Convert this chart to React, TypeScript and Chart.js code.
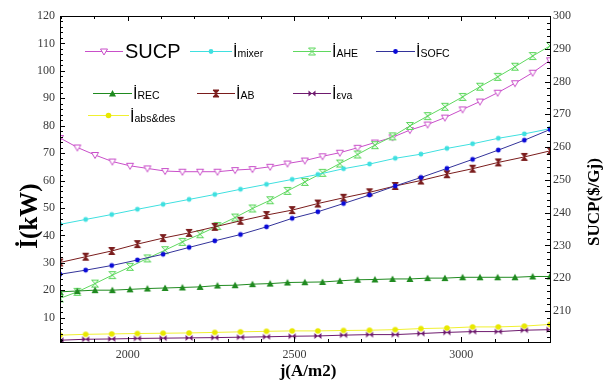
import { useEffect, useRef } from "react";
import { Chart, registerables } from "chart.js";
Chart.register(...registerables);

// ---- data ----
const jFine = [1797, 1849, 1902, 1954, 2007, 2059, 2112, 2164, 2217, 2269, 2322, 2374, 2427, 2479, 2531, 2584, 2636, 2689, 2741, 2794, 2846, 2899, 2951, 3004, 3056, 3109, 3161, 3214, 3266];
const jCoarse = [1797, 1874, 1952, 2029, 2106, 2184, 2261, 2338, 2416, 2493, 2570, 2647, 2725, 2802, 2879, 2957, 3034, 3111, 3189, 3266];

const sucp = [262.8, 259.9, 257.6, 255.6, 254.3, 253.5, 252.7, 252.5, 252.5, 252.5, 253.0, 253.3, 254.0, 255.0, 255.9, 257.2, 258.3, 259.8, 261.4, 263.0, 265.2, 266.9, 269.0, 271.5, 273.9, 276.6, 279.5, 282.7, 286.5];
const iAHE = [17.0, 19.4, 22.4, 25.5, 28.5, 31.6, 34.6, 37.6, 40.4, 43.4, 46.5, 49.8, 52.8, 56.2, 59.5, 62.8, 66.2, 69.5, 72.9, 76.1, 79.9, 83.5, 86.9, 90.5, 94.2, 97.8, 101.5, 105.4, 109.1];
const iREC = [19.4, 19.7, 20.0, 20.0, 20.3, 20.6, 20.8, 21.0, 21.2, 21.7, 21.8, 22.2, 22.4, 22.8, 22.9, 23.0, 23.4, 23.8, 23.9, 24.1, 24.1, 24.4, 24.4, 24.7, 24.7, 24.7, 24.7, 25.0, 25.0];

const iMixer = [44.0, 45.8, 47.6, 49.5, 51.3, 53.1, 54.9, 56.8, 58.6, 60.4, 62.2, 64.3, 66.0, 68.1, 69.6, 71.7, 73.4, 75.4, 77.0, 78.9];
const iSOFC = [25.8, 27.3, 29.0, 31.0, 33.1, 35.6, 38.0, 40.3, 43.1, 46.2, 48.6, 51.6, 54.7, 58.0, 61.1, 64.4, 67.7, 71.1, 74.7, 78.6];
const iAB = [30.1, 32.2, 34.3, 36.8, 39.0, 40.9, 43.1, 45.3, 47.4, 49.2, 51.6, 53.7, 55.7, 58.0, 60.0, 62.3, 64.3, 66.6, 68.6, 70.8];
const iEva = [1.75, 2.1, 2.2, 2.4, 2.5, 2.6, 2.7, 2.85, 3.0, 3.2, 3.3, 3.6, 3.8, 3.8, 4.2, 4.6, 4.9, 4.9, 5.4, 5.6];
const iAbsDes = [3.6, 3.9, 4.05, 4.2, 4.3, 4.4, 4.6, 4.8, 5.0, 5.15, 5.15, 5.3, 5.4, 5.6, 6.0, 6.2, 6.6, 6.6, 6.9, 7.5];

const leftTicks = [10, 20, 30, 40, 50, 60, 70, 80, 90, 100, 110, 120];
const rightTicks = [210, 220, 230, 240, 250, 260, 270, 280, 290, 300];
const xTicks = [2000, 2500, 3000];

// ---- styles ----
const C = {
  sucp: "#c94fc9",
  mixer: "#3fe0e0",
  ahe: "#5fd85f",
  sofcLine: "#33339a",
  sofcPt: "#0a0ad8",
  rec: "#1f8a1f",
  ab: "#7a1c1c",
  eva: "#6e1a6e",
  absLine: "#f0f030",
  absPt: "#e8e800",
};

type MarkerFn = (ctx: CanvasRenderingContext2D, cx: number, cy: number) => void;

const mk: Record<string, MarkerFn> = {
  downTri: (ctx, cx, cy) => {
    ctx.beginPath();
    ctx.moveTo(cx - 3.5, cy - 2.5);
    ctx.lineTo(cx + 3.5, cy - 2.5);
    ctx.lineTo(cx, cy + 3.5);
    ctx.closePath();
    ctx.fillStyle = "#ffffff";
    ctx.fill();
    ctx.strokeStyle = C.sucp;
    ctx.lineWidth = 1;
    ctx.stroke();
  },
  mixer: (ctx, cx, cy) => {
    ctx.beginPath();
    ctx.arc(cx, cy, 2.4, 0, Math.PI * 2);
    ctx.fillStyle = C.mixer;
    ctx.fill();
  },
  ahe: (ctx, cx, cy) => {
    ctx.beginPath();
    ctx.moveTo(cx - 3.5, cy - 3.5);
    ctx.lineTo(cx + 3.5, cy - 3.5);
    ctx.lineTo(cx - 3.5, cy + 3.5);
    ctx.lineTo(cx + 3.5, cy + 3.5);
    ctx.closePath();
    ctx.fillStyle = "#e8fae8";
    ctx.fill();
    ctx.strokeStyle = C.ahe;
    ctx.lineWidth = 1;
    ctx.stroke();
  },
  sofc: (ctx, cx, cy) => {
    ctx.beginPath();
    ctx.arc(cx, cy, 2.4, 0, Math.PI * 2);
    ctx.fillStyle = C.sofcPt;
    ctx.fill();
  },
  rec: (ctx, cx, cy) => {
    ctx.beginPath();
    ctx.moveTo(cx, cy - 3.5);
    ctx.lineTo(cx + 3.5, cy + 3);
    ctx.lineTo(cx - 3.5, cy + 3);
    ctx.closePath();
    ctx.fillStyle = C.rec;
    ctx.fill();
  },
  ab: (ctx, cx, cy) => {
    ctx.beginPath();
    ctx.moveTo(cx - 3, cy - 3.5);
    ctx.lineTo(cx + 3, cy - 3.5);
    ctx.lineTo(cx - 3, cy + 3.5);
    ctx.lineTo(cx + 3, cy + 3.5);
    ctx.closePath();
    ctx.fillStyle = C.ab;
    ctx.fill();
    ctx.strokeStyle = C.ab;
    ctx.lineWidth = 1;
    ctx.stroke();
  },
  eva: (ctx, cx, cy) => {
    ctx.beginPath();
    ctx.moveTo(cx - 3.5, cy - 3);
    ctx.lineTo(cx - 3.5, cy + 3);
    ctx.lineTo(cx + 3.5, cy - 3);
    ctx.lineTo(cx + 3.5, cy + 3);
    ctx.closePath();
    ctx.fillStyle = C.eva;
    ctx.fill();
  },
  abs: (ctx, cx, cy) => {
    ctx.beginPath();
    ctx.arc(cx, cy, 2.8, 0, Math.PI * 2);
    ctx.fillStyle = C.absPt;
    ctx.fill();
  },
};

function pointCanvas(fn: MarkerFn) {
  const c = document.createElement("canvas");
  c.width = 12;
  c.height = 12;
  const ctx = c.getContext("2d")!;
  fn(ctx, 6, 6);
  return c;
}

// legend layout
type LegendItem = { key: string; color: string; sub?: string; big?: string; x0: number; x1: number; row: number };
const legendRows = [50.7, 92.7, 115];
const legendItems: LegendItem[] = [
  { key: "downTri", color: C.sucp, big: "SUCP", x0: 85, x1: 123, row: 0 },
  { key: "mixer", color: C.mixer, sub: "mixer", x0: 190, x1: 232, row: 0 },
  { key: "ahe", color: C.ahe, sub: "AHE", x0: 293, x1: 331, row: 0 },
  { key: "sofc", color: C.sofcLine, sub: "SOFC", x0: 376, x1: 415, row: 0 },
  { key: "rec", color: C.rec, sub: "REC", x0: 93, x1: 132, row: 1 },
  { key: "ab", color: C.ab, sub: "AB", x0: 197, x1: 235, row: 1 },
  { key: "eva", color: C.eva, sub: "\u03b5va", x0: 293, x1: 331, row: 1 },
  { key: "abs", color: C.absLine, sub: "abs&des", x0: 88, x1: 129, row: 2 },
];

const decorPlugin = {
  id: "decor",
  afterDatasetsDraw(chart: any) {
    const ctx: CanvasRenderingContext2D = chart.ctx;
    const a = chart.chartArea;
    const xs = chart.scales.x;
    const yl = chart.scales.y;
    const yr = chart.scales.y2;
    ctx.save();
    ctx.strokeStyle = "#000";
    ctx.lineWidth = 1;
    ctx.strokeRect(Math.round(a.left) + 0.5, Math.round(a.top) + 0.5, Math.round(a.right - a.left), Math.round(a.bottom - a.top));
    ctx.beginPath();
    for (let v = 2; v <= 120; v += 2) {
      const y = Math.round(yl.getPixelForValue(v)) + 0.5;
      if (y > a.bottom || y < a.top) continue;
      const len = v % 10 === 0 ? 5 : 3;
      ctx.moveTo(a.left, y);
      ctx.lineTo(a.left + len, y);
    }
    for (let v = 202; v <= 300; v += 2) {
      const y = Math.round(yr.getPixelForValue(v)) + 0.5;
      if (y > a.bottom || y < a.top) continue;
      const len = v % 10 === 0 ? 5 : 3;
      ctx.moveTo(a.right, y);
      ctx.lineTo(a.right - len, y);
    }
    for (let v = 1800; v <= 3200; v += 100) {
      const x = Math.round(xs.getPixelForValue(v)) + 0.5;
      if (x < a.left || x > a.right) continue;
      const len = v % 500 === 0 ? 5 : 3;
      ctx.moveTo(x, a.bottom);
      ctx.lineTo(x, a.bottom - len);
      ctx.moveTo(x, a.top);
      ctx.lineTo(x, a.top + len);
    }
    ctx.stroke();
    ctx.restore();
  },
  afterDraw(chart: any) {
    const ctx: CanvasRenderingContext2D = chart.ctx;
    const a = chart.chartArea;
    ctx.save();
    for (const it of legendItems) {
      const y = legendRows[it.row];
      ctx.beginPath();
      ctx.strokeStyle = it.color;
      ctx.lineWidth = 1;
      ctx.moveTo(it.x0, Math.round(y) + 0.5);
      ctx.lineTo(it.x1, Math.round(y) + 0.5);
      ctx.stroke();
      mk[it.key](ctx, (it.x0 + it.x1) / 2, Math.round(y) + 0.5);
      ctx.fillStyle = "#000";
      ctx.textAlign = "left";
      ctx.textBaseline = "alphabetic";
      const base = y + 6.5;
      if (it.big) {
        ctx.font = '20px "Liberation Sans", Arial, sans-serif';
        ctx.fillText(it.big, it.x1 + 2, base + 0.5);
      } else {
        ctx.font = '16px "Liberation Sans", Arial, sans-serif';
        ctx.fillText("\u0130", it.x1 + 1, base);
        ctx.font = '10.5px "Liberation Sans", Arial, sans-serif';
        ctx.fillText(it.sub || "", it.x1 + 5.5, base);
      }
    }
    ctx.fillStyle = "#000";
    ctx.textAlign = "center";
    ctx.textBaseline = "middle";
    ctx.font = 'bold 25px "Liberation Serif", "Times New Roman", serif';
    ctx.save();
    ctx.translate(a.left - 29, (a.top + a.bottom) / 2 + 37);
    ctx.rotate(-Math.PI / 2);
    ctx.fillText("\u0130(kW)", 0, 0);
    ctx.restore();
    ctx.font = 'bold 17px "Liberation Serif", "Times New Roman", serif';
    ctx.save();
    ctx.translate(a.right + 45, (a.top + a.bottom) / 2 + 23);
    ctx.rotate(-Math.PI / 2);
    ctx.fillText("SUCP($/Gj)", 0, 0);
    ctx.restore();
    ctx.fillText("j(A/m2)", (a.left + a.right) / 2 + 3, a.bottom + 30);
    ctx.restore();
  },
};

export default function App() {
  const ref = useRef<HTMLCanvasElement | null>(null);
  useEffect(() => {
    if (!ref.current) return;
    const pts = (xs: number[], ys: number[]) => xs.map((x, i) => ({ x, y: ys[i] }));
    const ds = (label: string, xs: number[], ys: number[], line: string, key: string, axis: string) => ({
      label,
      data: pts(xs, ys),
      borderColor: line,
      backgroundColor: line,
      borderWidth: 1,
      pointStyle: pointCanvas(mk[key]),
      pointRadius: 4,
      pointHoverRadius: 4,
      tension: 0,
      yAxisID: axis,
    });
    const tickFont = { family: '"Liberation Serif", "Times New Roman", serif', size: 12 };
    const chart = new Chart(ref.current, {
      type: "line",
      data: {
        datasets: [
          ds("iabs&des", jCoarse, iAbsDes, C.absLine, "abs", "y"),
          ds("ieva", jCoarse, iEva, C.eva, "eva", "y"),
          ds("iREC", jFine, iREC, C.rec, "rec", "y"),
          ds("iSOFC", jCoarse, iSOFC, C.sofcLine, "sofc", "y"),
          ds("iAB", jCoarse, iAB, C.ab, "ab", "y"),
          ds("imixer", jCoarse, iMixer, C.mixer, "mixer", "y"),
          ds("iAHE", jFine, iAHE, C.ahe, "ahe", "y"),
          ds("SUCP", jFine, sucp, C.sucp, "downTri", "y2"),
        ] as any,
      },
      options: {
        responsive: false,
        animation: false,
        events: [],
        layout: { padding: { top: 16, left: 0, right: 0, bottom: 0 } },
        plugins: { legend: { display: false }, tooltip: { enabled: false } },
        scales: {
          x: {
            type: "linear",
            min: 1797,
            max: 3266,
            grid: { display: false, drawTicks: false },
            border: { display: false },
            afterBuildTicks: (s: any) => {
              s.ticks = xTicks.map((v) => ({ value: v }));
            },
            afterFit: (s: any) => {
              s.height = 41;
            },
            ticks: { font: tickFont, color: "#3a3a3a", padding: 6, maxRotation: 0, callback: (v: any) => String(v) },
          },
          y: {
            type: "linear",
            position: "left",
            min: 1.1,
            max: 120,
            grid: { display: false, drawTicks: false },
            border: { display: false },
            afterBuildTicks: (s: any) => {
              s.ticks = leftTicks.map((v) => ({ value: v }));
            },
            afterFit: (s: any) => {
              s.width = 60;
            },
            ticks: { font: tickFont, color: "#3a3a3a", padding: 5 },
          },
          y2: {
            type: "linear",
            position: "right",
            min: 200.55,
            max: 300,
            grid: { display: false, drawTicks: false },
            border: { display: false },
            afterBuildTicks: (s: any) => {
              s.ticks = rightTicks.map((v) => ({ value: v }));
            },
            afterFit: (s: any) => {
              s.width = 58;
            },
            ticks: { font: tickFont, color: "#3a3a3a", padding: 3 },
          },
        },
      } as any,
      plugins: [decorPlugin],
    });
    return () => chart.destroy();
  }, []);
  return (
    <div style={{ position: "fixed", left: 0, top: 0, width: 608, height: 383, background: "#fff" }}>
      <canvas ref={ref} width={608} height={383} style={{ display: "block" }} />
    </div>
  );
}
